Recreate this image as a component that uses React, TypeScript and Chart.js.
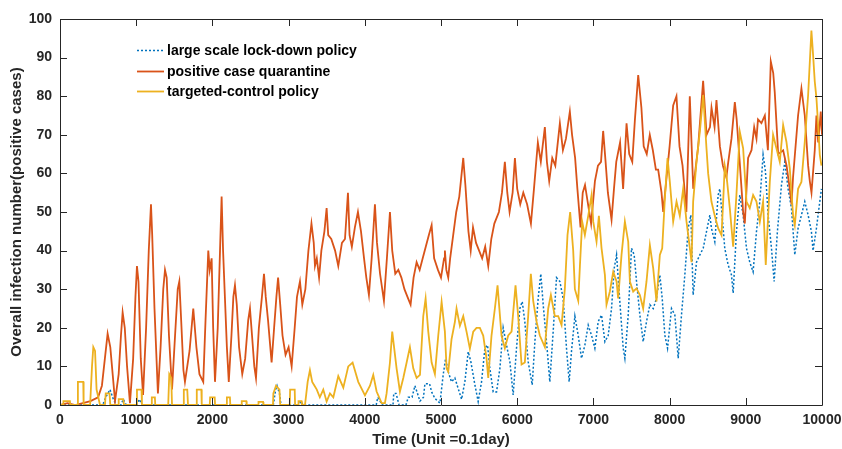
import { useEffect, useRef } from "react";
import Chart from "chart.js/auto";

// Series: large scale lock-down policy
const lockdownT = [0, 560, 600, 656, 700, 740, 800, 830, 870, 1010, 1040, 1080, 2800, 2830, 2848, 2880, 2900, 3140, 3160, 3190, 4150, 4170, 4200, 4230, 4370, 4380, 4410, 4450, 4540, 4570, 4620, 4658, 4724, 4770, 4789, 4850, 4877, 4920, 4986, 5030, 5060, 5095, 5138, 5182, 5225, 5270, 5313, 5357, 5392, 5445, 5488, 5532, 5576, 5611, 5641, 5685, 5729, 5773, 5816, 5860, 5904, 5947, 5991, 6035, 6066, 6100, 6144, 6197, 6232, 6275, 6310, 6341, 6385, 6428, 6472, 6516, 6560, 6603, 6647, 6682, 6713, 6757, 6801, 6844, 6888, 6932, 6976, 7019, 7063, 7107, 7151, 7194, 7238, 7273, 7304, 7347, 7391, 7413, 7457, 7500, 7535, 7566, 7610, 7653, 7697, 7741, 7785, 7828, 7872, 7903, 7938, 7973, 8025, 8069, 8113, 8156, 8200, 8244, 8279, 8309, 8353, 8397, 8441, 8484, 8528, 8549, 8593, 8637, 8659, 8681, 8724, 8768, 8812, 8834, 8877, 8921, 8965, 9009, 9052, 9096, 9140, 9184, 9227, 9258, 9293, 9337, 9372, 9415, 9468, 9512, 9555, 9599, 9643, 9686, 9730, 9774, 9818, 9861, 9883, 9927, 9971, 9993];
const lockdownV = [0, 0, 2, 4, 1.5, 0, 0, 1.5, 0, 0, 1.5, 0, 0, 4, 5, 3, 0, 0, 1, 0, 0, 2, 1, 0, 0, 3, 3, 0, 0, 2, 2, 5, 1, 2, 5.5, 5.5, 3.4, 1.7, 0.5, 8, 12, 8.6, 6, 7, 4.3, 1.5, 6, 13.8, 11.2, 5.2, 0.9, 6, 14.7, 15.5, 9.5, 3.4, 3.4, 9.5, 20, 15.5, 11.2, 2.6, 14.7, 25, 26.8, 21.6, 11.2, 5.2, 16.4, 27.6, 34, 26, 16.4, 6, 19, 33, 32, 27.6, 14.7, 6, 14, 23, 18, 12.1, 15.5, 20.7, 18, 14.7, 21.6, 23.3, 16.4, 18, 25, 35.4, 38.9, 26.8, 14.7, 12.1, 23.3, 40.6, 38.9, 32, 23.3, 16.4, 21.6, 26, 25, 27.6, 33.7, 27.6, 18, 14.7, 25, 23.3, 12.1, 23.3, 33.7, 45.8, 49.2, 28.5, 37, 38.9, 40.6, 44.9, 49.2, 45.8, 42.3, 54.4, 56, 51, 40.6, 36.3, 33.7, 29, 44.9, 54.4, 49.2, 40.6, 37, 34.5, 44.9, 52.7, 64.8, 60.5, 49.2, 40.6, 32, 45, 57, 63, 56, 51, 38.9, 45.8, 49.2, 52.7, 49.2, 44.9, 40, 45.8, 52.7, 56];

// Series: positive case quarantine
const quarantineT = [0, 100, 200, 300, 400, 500, 550, 600, 625, 660, 700, 722, 770, 800, 822, 850, 880, 918, 960, 990, 1010, 1030, 1060, 1090, 1130, 1165, 1194, 1210, 1240, 1285, 1320, 1355, 1378, 1400, 1430, 1470, 1510, 1545, 1566, 1590, 1620, 1640, 1700, 1749, 1790, 1830, 1880, 1910, 1946, 1965, 1990, 2010, 2034, 2070, 2100, 2121, 2140, 2160, 2190, 2215, 2250, 2275, 2296, 2320, 2350, 2392, 2430, 2470, 2493, 2520, 2550, 2572, 2610, 2650, 2677, 2700, 2730, 2760, 2777, 2810, 2840, 2862, 2890, 2920, 2960, 3000, 3040, 3080, 3110, 3149, 3180, 3220, 3260, 3300, 3330, 3346, 3370, 3400, 3430, 3470, 3499, 3520, 3560, 3610, 3652, 3700, 3740, 3779, 3800, 3830, 3870, 3910, 3950, 3990, 4020, 4054, 4090, 4133, 4160, 4200, 4251, 4290, 4330, 4360, 4400, 4440, 4480, 4520, 4560, 4601, 4640, 4680, 4720, 4760, 4800, 4840, 4877, 4910, 4960, 5000, 5040, 5051, 5070, 5095, 5120, 5160, 5200, 5240, 5292, 5320, 5360, 5390, 5420, 5460, 5500, 5540, 5580, 5620, 5660, 5700, 5760, 5800, 5838, 5870, 5900, 5940, 5970, 6000, 6040, 6080, 6130, 6180, 6220, 6271, 6310, 6363, 6390, 6420, 6460, 6500, 6560, 6600, 6640, 6691, 6720, 6760, 6790, 6831, 6860, 6890, 6930, 6970, 7020, 7060, 7100, 7128, 7160, 7190, 7238, 7270, 7300, 7350, 7390, 7435, 7470, 7510, 7545, 7588, 7630, 7660, 7700, 7740, 7780, 7820, 7850, 7894, 7916, 7960, 8000, 8047, 8090, 8130, 8170, 8220, 8265, 8310, 8375, 8440, 8485, 8530, 8550, 8590, 8615, 8660, 8700, 8745, 8770, 8812, 8856, 8880, 8920, 8965, 8987, 9030, 9075, 9110, 9140, 9160, 9205, 9250, 9290, 9328, 9360, 9380, 9425, 9490, 9535, 9577, 9600, 9620, 9686, 9730, 9774, 9818, 9840, 9862, 9905, 9927, 9950, 9984, 10000];
const quarantineV = [0, 0.5, 0, 0.5, 1, 2, 5, 14, 18.5, 15, 6, 1, 8, 18, 24, 20, 10, 0.5, 12, 28, 36, 32, 12, 2.6, 20, 40, 52, 44, 25, 3, 15, 30, 35, 33, 18, 4, 18, 30, 32, 22, 9, 6, 14, 25, 15, 8, 6, 22, 40, 35, 38, 20, 6, 20, 40, 54, 40, 30, 15, 6, 18, 28, 31, 26, 15, 8, 12, 22, 25, 18, 10, 7, 20, 28, 34, 28, 22, 15, 11, 20, 28, 33, 26, 18, 13, 15, 10, 20, 28, 32, 26, 30, 40, 47, 42, 36, 38, 33, 40, 45, 51, 44, 43, 40, 36, 42, 43, 55, 44, 41, 46, 50, 45, 38, 33, 28.5, 38, 52, 42, 34, 27, 38, 50, 40, 34, 35, 33, 30, 28, 26, 33, 37, 35, 38, 41, 44, 46.6, 38, 35, 33, 38, 40, 35, 33, 38, 44, 50, 54, 64, 57, 45, 40, 46, 42, 40, 38, 41, 36, 43, 47, 50, 55, 63, 55, 50, 55, 64, 56, 52, 55, 52, 47, 56, 68, 63, 72, 63, 58, 64, 62, 73, 66, 69, 76, 70, 64, 56, 46, 55, 57, 52, 47, 58, 62, 63, 71, 63, 55, 48, 56, 63, 68, 56, 73, 65, 63, 74, 85.5, 77, 67, 65, 70, 66, 61, 61, 55, 50, 59, 67, 77.6, 80, 67, 62, 50, 80, 56, 67, 84, 70, 72, 77, 72, 79, 67, 62, 59, 63, 69, 78.5, 74, 63, 50, 47, 64, 66, 72, 69, 74, 73, 75, 66, 89, 86, 81, 65, 66, 62, 56, 52, 59, 75, 82, 75, 62, 58, 55, 66, 75, 68, 76, 70];

// Series: targeted-control policy
const targetedT = [0, 40, 45, 130, 135, 230, 235, 305, 310, 395, 420, 437, 460, 480, 525, 590, 600, 650, 660, 765, 770, 830, 840, 1005, 1010, 1070, 1075, 1200, 1205, 1245, 1250, 1420, 1434, 1460, 1470, 1620, 1625, 1670, 1680, 1790, 1795, 1855, 1860, 1965, 1970, 2030, 2035, 2185, 2190, 2230, 2235, 2380, 2385, 2445, 2450, 2600, 2605, 2665, 2670, 2795, 2800, 2835, 2880, 2890, 3015, 3020, 3080, 3085, 3125, 3130, 3170, 3175, 3215, 3250, 3280, 3310, 3340, 3370, 3410, 3455, 3499, 3543, 3587, 3652, 3718, 3783, 3840, 3914, 4002, 4068, 4111, 4155, 4221, 4264, 4286, 4330, 4360, 4417, 4461, 4505, 4549, 4592, 4636, 4680, 4724, 4767, 4798, 4833, 4877, 4920, 4964, 5008, 5051, 5073, 5095, 5138, 5182, 5204, 5248, 5292, 5335, 5379, 5423, 5466, 5510, 5554, 5598, 5620, 5663, 5707, 5742, 5794, 5838, 5882, 5926, 5978, 6013, 6057, 6100, 6144, 6179, 6210, 6254, 6297, 6341, 6363, 6407, 6442, 6494, 6538, 6582, 6625, 6660, 6695, 6735, 6757, 6801, 6823, 6853, 6888, 6932, 6976, 6998, 7041, 7072, 7107, 7151, 7172, 7216, 7260, 7304, 7325, 7369, 7413, 7457, 7479, 7522, 7566, 7610, 7653, 7697, 7741, 7785, 7828, 7872, 7903, 7938, 7973, 8003, 8047, 8091, 8134, 8178, 8222, 8266, 8288, 8309, 8353, 8397, 8441, 8484, 8506, 8549, 8593, 8637, 8681, 8703, 8724, 8746, 8790, 8834, 8877, 8921, 8965, 9009, 9052, 9096, 9140, 9184, 9227, 9262, 9315, 9358, 9402, 9446, 9490, 9533, 9577, 9621, 9643, 9686, 9730, 9774, 9818, 9861, 9883, 9905, 9927, 9949, 9971, 9993];
const targetedV = [0, 0, 1, 1, 0, 0, 6, 6, 0, 0, 10, 15, 14, 4, 0, 0, 3, 3, 0, 0, 1.5, 1.5, 0, 0, 4, 4, 0, 0, 2, 2, 0, 0, 8, 7, 0, 0, 4, 4, 0, 0, 4, 4, 0, 0, 2, 2, 0, 0, 2, 2, 0, 0, 1, 1, 0, 0, 0.8, 0.8, 0, 0, 3, 5, 4, 0, 0, 4, 4, 0, 0, 1, 1, 0, 0, 6, 9, 6, 5, 4, 2, 4, 0.9, 3, 2, 7.5, 4.5, 10, 11, 6, 2.5, 5, 7.8, 3.5, 0.5, 0.5, 3, 11, 19, 9.5, 3.5, 7, 11, 15, 9.5, 7, 7.8, 23, 27.6, 19, 11, 8, 18, 26.7, 19, 9.5, 8.6, 17, 21.5, 25, 20.5, 23, 19, 14.6, 19, 20, 20, 18, 12, 7, 18, 25, 31, 18, 14.7, 18, 19, 31, 23, 10.5, 11, 23, 34, 27, 21.6, 18, 16, 15, 25, 28.5, 23, 23, 20.7, 30, 44, 50, 40, 30, 27, 36, 47.5, 44, 49, 54.4, 47.5, 42.3, 49, 40.6, 33.7, 26, 29.4, 34.5, 32, 27.6, 38.9, 47.5, 42.3, 32, 29.4, 30.2, 28.5, 25, 32, 41.4, 35.4, 26.8, 38.9, 40.6, 53.6, 64, 57.8, 47.5, 52.7, 49, 56, 47.5, 40.6, 37, 52.7, 63, 70.8, 80.3, 66.5, 60, 52.7, 49, 45.8, 44, 52.7, 62, 59.6, 51, 41, 54.4, 70.8, 66.5, 52.7, 51, 54.4, 52.7, 47.5, 52.7, 36.3, 57.8, 70, 66.5, 63, 72.5, 68.2, 61.3, 49, 46.6, 56, 57.8, 68.2, 80.3, 97, 90.7, 83.8, 79.5, 72.5, 64.8, 62];

const seriesLabels = ["large scale lock-down policy", "positive case quarantine", "targeted-control policy"];
const xTitle = "Time (Unit =0.1day)";
const yTitle = "Overall infection number(positive cases)";

const BLUE = "#0072BD";
const ORANGE = "#D95319";
const YELLOW = "#EDB120";
const AXIS = "#262626";
const FONT = 'Arial, "Liberation Sans", Helvetica, sans-serif';

const toPoints = (t: number[], v: number[]) => t.map((x, i) => ({ x, y: v[i] }));

// Box around the plot with inward tick marks on all four sides
const boxPlugin = {
  id: "boxTicks",
  afterDraw(chart: any) {
    const { ctx, chartArea: a, scales } = chart;
    const len = 7;
    ctx.save();
    ctx.strokeStyle = AXIS;
    ctx.lineWidth = 1;
    ctx.beginPath();
    ctx.rect(Math.round(a.left) + 0.5, Math.round(a.top) + 0.5, Math.round(a.right - a.left), Math.round(a.bottom - a.top));
    for (const t of scales.x.ticks) {
      const px = Math.round(scales.x.getPixelForValue(t.value)) + 0.5;
      ctx.moveTo(px, a.bottom);
      ctx.lineTo(px, a.bottom - len);
      ctx.moveTo(px, a.top);
      ctx.lineTo(px, a.top + len);
    }
    for (const t of scales.y.ticks) {
      const py = Math.round(scales.y.getPixelForValue(t.value)) + 0.5;
      ctx.moveTo(a.left, py);
      ctx.lineTo(a.left + len, py);
      ctx.moveTo(a.right, py);
      ctx.lineTo(a.right - len, py);
    }
    ctx.stroke();
    ctx.restore();
  },
};

// Legend entries drawn inside the upper-left part of the plot
const legendPlugin = {
  id: "innerLegend",
  afterDraw(chart: any) {
    const { ctx } = chart;
    const rows = [50, 71, 91];
    ctx.save();
    chart.data.datasets.forEach((ds: any, i: number) => {
      const y = rows[i] + 0.5;
      ctx.strokeStyle = ds.borderColor;
      ctx.lineWidth = ds.borderWidth;
      ctx.setLineDash(ds.borderDash || []);
      ctx.beginPath();
      ctx.moveTo(137, y);
      ctx.lineTo(164, y);
      ctx.stroke();
      ctx.setLineDash([]);
      ctx.fillStyle = "#000";
      ctx.font = `bold 14px ${FONT}`;
      ctx.textBaseline = "middle";
      ctx.textAlign = "left";
      ctx.fillText(ds.label, 167, rows[i] + 1);
    });
    ctx.restore();
  },
};

export default function App() {
  const ref = useRef<HTMLCanvasElement>(null);

  useEffect(() => {
    document.body.style.margin = "0";
    const tickFont = { family: FONT, size: 14, weight: "bold" as const };
    const titleFont = { family: FONT, size: 15, weight: "bold" as const };
    const plain = (v: any) => String(v);
    const chart = new Chart(ref.current!, {
      type: "line",
      data: {
        datasets: [
          {
            label: seriesLabels[0],
            data: toPoints(lockdownT, lockdownV),
            borderColor: BLUE,
            borderWidth: 1.5,
            borderDash: [2, 2],
            pointRadius: 0,
            tension: 0,
            order: 2,
          },
          {
            label: seriesLabels[1],
            data: toPoints(quarantineT, quarantineV),
            borderColor: ORANGE,
            borderWidth: 1.8,
            pointRadius: 0,
            tension: 0,
            order: 1,
          },
          {
            label: seriesLabels[2],
            data: toPoints(targetedT, targetedV),
            borderColor: YELLOW,
            borderWidth: 1.8,
            pointRadius: 0,
            tension: 0,
            order: 0,
          },
        ],
      },
      options: {
        responsive: false,
        animation: false,
        devicePixelRatio: 1,
        layout: { padding: { left: 0, right: 20, top: 19, bottom: 0 } },
        plugins: { legend: { display: false }, tooltip: { enabled: false } },
        scales: {
          x: {
            type: "linear",
            min: 0,
            max: 10000,
            ticks: { stepSize: 1000, padding: 7, font: tickFont, color: AXIS, maxRotation: 0, autoSkip: false, callback: plain },
            grid: { display: false, drawTicks: false },
            border: { display: false },
            title: { display: true, text: xTitle, font: titleFont, color: AXIS, padding: { top: 0, bottom: 0 } },
            afterFit: (s: any) => {
              s.height = 44;
              s.paddingLeft = 0;
              s.paddingRight = 0;
            },
          },
          y: {
            type: "linear",
            min: 0,
            max: 100,
            ticks: { stepSize: 10, padding: 8, font: tickFont, color: AXIS, callback: plain },
            grid: { display: false, drawTicks: false },
            border: { display: false },
            title: { display: true, text: yTitle, font: titleFont, color: AXIS, padding: { top: 8, bottom: 0 } },
            afterFit: (s: any) => {
              s.width = 60;
              s.paddingTop = 0;
              s.paddingBottom = 0;
            },
          },
        },
      },
      plugins: [boxPlugin, legendPlugin],
    });
    return () => chart.destroy();
  }, []);

  return <canvas ref={ref} width={842} height={449} style={{ display: "block" }} />;
}
